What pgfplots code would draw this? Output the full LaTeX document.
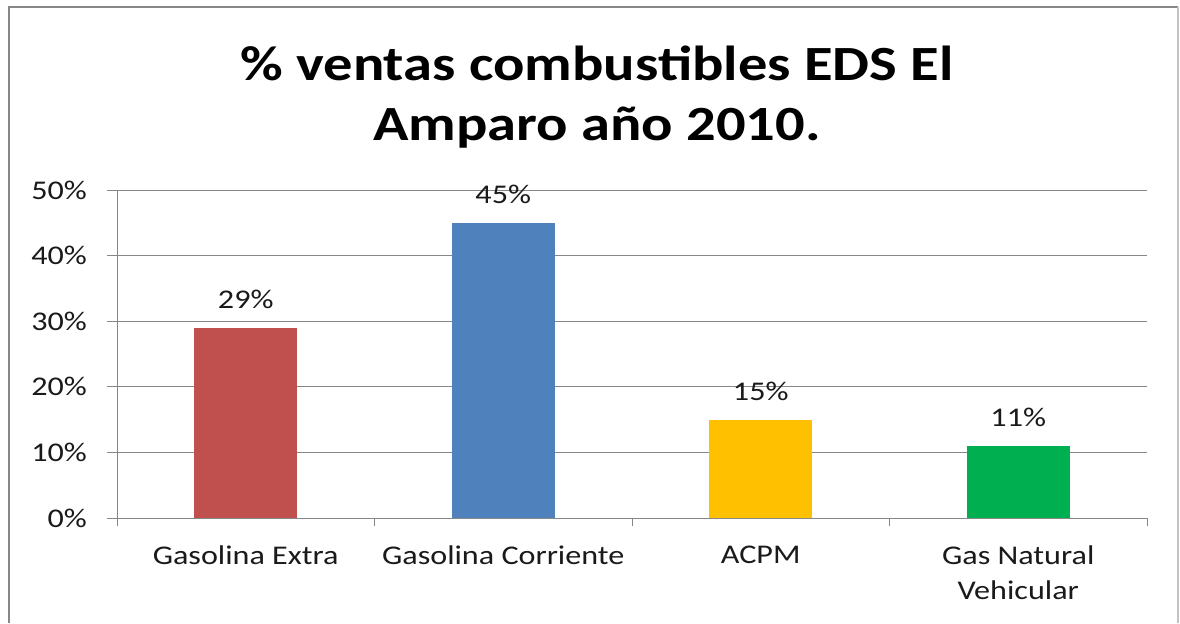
\documentclass[border=0pt]{standalone}
\usepackage{pgfplots}
\pgfplotsset{compat=1.18}
\usepackage{fontspec}
\setmainfont[FakeStretch=1.19]{Carlito}
\definecolor{cRed}{HTML}{C0504D}
\definecolor{cBlue}{HTML}{4F81BD}
\definecolor{cYellow}{HTML}{FFC000}
\definecolor{cGreen}{HTML}{00B050}
\definecolor{gridgray}{HTML}{878787}
\definecolor{txt}{HTML}{1A1A1A}
\begin{document}
\begin{tikzpicture}
  % 1 px of the reference = 0.5pt
  \useasboundingbox[fill=white] (0,0) rectangle (590pt,311.5pt);
  \draw[gridgray, line width=1.2pt] (4.5pt,0) -- (4.5pt,308pt) -- (589pt,308pt);
  \draw[gridgray!50, line width=1pt] (589pt,308pt) -- (589pt,0);
  \node[font=\fontsize{24.6}{30}\selectfont\bfseries, text=black, anchor=base]
    at (298.5pt,271.5pt) {\% ventas combustibles EDS El};
  \node[font=\fontsize{24.6}{30}\selectfont\bfseries, text=black, anchor=base]
    at (298.5pt,241.5pt) {Amparo año 2010.};
  \begin{axis}[
      at={(58.5pt,52.5pt)}, anchor=south west,
      scale only axis,
      width=515pt, height=164pt,
      ybar, bar width=0.4,
      xmin=-0.5, xmax=3.5,
      ymin=0, ymax=50,
      xtick={0,1,2,3},
      xticklabels={Gasolina Extra, Gasolina Corriente, ACPM, {Gas Natural\\Vehicular}},
      xticklabel style={font=\fontsize{13.5}{17.5}\selectfont, align=center, text=txt, yshift=-5.5pt},
      x tick style={draw=none},
      extra x ticks={-0.5,0.5,1.5,2.5,3.5},
      extra x tick labels={},
      extra x tick style={x tick style={draw=gridgray, thin}, major tick length=4pt, tick align=outside},
      ytick={0,10,20,30,40,50},
      yticklabel={\pgfmathprintnumber{\tick}\%},
      yticklabel style={font=\fontsize{13.5}{17}\selectfont, text=txt, xshift=-6.5pt},
      y tick style={draw=gridgray, thin},
      major tick length=5pt, tick align=outside,
      /pgf/number format/assume math mode=true,
      axis x line*=bottom, axis y line*=left,
      axis line style={gridgray, thin, -},
      ymajorgrids, major grid style={gridgray, thin},
      nodes near coords={\pgfmathprintnumber{\pgfplotspointmeta}\%},
      every node near coord/.append style={font=\fontsize{13.5}{17}\selectfont, text=txt, yshift=6pt},
      clip=false,
    ]
    \addplot[fill=cRed, draw=none, bar shift=0pt] coordinates {(0,29)};
    \addplot[fill=cBlue, draw=none, bar shift=0pt] coordinates {(1,45)};
    \addplot[fill=cYellow, draw=none, bar shift=0pt] coordinates {(2,15)};
    \addplot[fill=cGreen, draw=none, bar shift=0pt] coordinates {(3,11)};
  \end{axis}
\end{tikzpicture}
\end{document}
